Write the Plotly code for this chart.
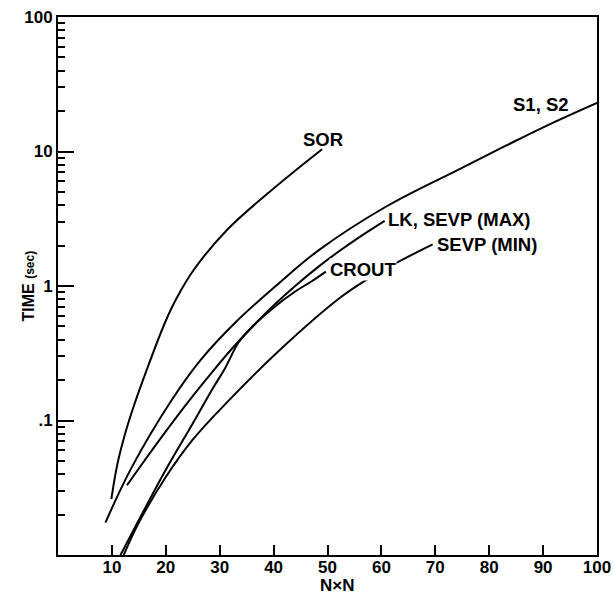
import numpy as np
import plotly.graph_objects as go

# ---- data ----
sor_x = [9.9, 11.0, 12.5, 14.0, 16.5, 19.9, 22.0, 25.2, 31.3, 40.1, 49.0]
sor_y = [0.026, 0.047, 0.081, 0.126, 0.24, 0.54, 0.81, 1.32, 2.6, 5.35, 10.4]

s12_x = [8.8, 13.7, 21.1, 26.4, 33.0, 41.0, 48.4, 60.9, 74.5, 83.0, 91.0, 100.0]
s12_y = [0.0174, 0.045, 0.142, 0.28, 0.54, 1.05, 1.85, 3.9, 7.4, 11.0, 15.8, 23.0]

lk_x = [12.8, 16.0, 20.0, 24.3, 28.6, 32.3, 36.1, 40.0, 44.0, 48.4, 52.2, 56.0, 60.6]
lk_y = [0.033, 0.050, 0.083, 0.140, 0.229, 0.343, 0.50, 0.716, 1.0, 1.40, 1.82, 2.32, 3.05]

crout_x = [11.6, 15.0, 20.0, 25.0, 28.6, 31.0, 33.5, 36.1, 40.0, 44.0, 47.0, 49.7]
crout_y = [0.010, 0.0182, 0.043, 0.095, 0.17, 0.245, 0.38, 0.50, 0.69, 0.91, 1.08, 1.28]

smin_x = [12.2, 15.0, 20.0, 25.0, 31.7, 41.0, 52.2, 57.2, 62.7, 69.5]
smin_y = [0.010, 0.0174, 0.038, 0.072, 0.141, 0.33, 0.81, 1.11, 1.48, 2.04]

label_text = ["SOR", "S1, S2", "LK, SEVP (MAX)", "SEVP (MIN)", "CROUT"]
label_x = [49.2, 89.6, 61.1, 70.2, 50.3]
label_y = [12.2, 22.5, 3.12, 2.02, 1.32]
label_anchor = ["center", "center", "left", "left", "left"]

x_ticks = [10, 20, 30, 40, 50, 60, 70, 80, 90, 100]
y_ticks = [0.1, 1, 10, 100]
y_ticktext = [".1", "1", "10", "100"]

FONT = "Liberation Sans, Arial, sans-serif"

fig = go.Figure()
for xs, ys in [(sor_x, sor_y), (s12_x, s12_y), (lk_x, lk_y), (smin_x, smin_y), (crout_x, crout_y)]:
    fig.add_trace(go.Scatter(x=xs, y=ys, mode="lines",
                             line=dict(color="black", width=2, shape="spline", smoothing=1.1),
                             showlegend=False, hoverinfo="skip"))

for t, x, y, a in zip(label_text, label_x, label_y, label_anchor):
    fig.add_annotation(x=x, y=np.log10(y), xref="x", yref="y", text="<b>%s</b>" % t,
                       showarrow=False, xanchor=a, yanchor="middle",
                       font=dict(family=FONT, size=18.5, color="black"),
                       bgcolor="white" if t == "CROUT" else None, borderpad=0)

fig.add_annotation(x=-0.076, y=0.5, xref="paper", yref="paper", textangle=-90,
                   text="<b>TIME <span style='font-size:12px'>(sec)</span></b>",
                   showarrow=False, font=dict(family=FONT, size=16, color="black"))
fig.add_annotation(x=0.518, y=-0.056, xref="paper", yref="paper", yanchor="middle",
                   text="<b>N×N</b>", showarrow=False,
                   font=dict(family=FONT, size=17, color="black"))

fig.update_layout(
    width=613, height=600,
    margin=dict(l=58, r=16, t=17, b=45),
    paper_bgcolor="white", plot_bgcolor="white",
    font=dict(family=FONT, color="black"),
)
fig.update_xaxes(range=[0, 100], tickvals=x_ticks, automargin=False,
                 ticktext=["<b>%d</b>" % v for v in x_ticks],
                 ticks="inside", ticklen=10, tickwidth=2, tickcolor="black",
                 ticklabelstandoff=-4, ticklabeloverflow="allow",
                 showline=True, linecolor="black", linewidth=2, mirror=True,
                 showgrid=False, zeroline=False,
                 tickfont=dict(family=FONT, size=17, color="black"))
fig.update_yaxes(type="log", range=[-2, 2], tickvals=y_ticks, automargin=False,
                 ticktext=["<b>%s</b>" % s for s in y_ticktext],
                 ticks="inside", ticklen=16, tickwidth=2, tickcolor="black",
                 ticklabeloverflow="allow",
                 showline=True, linecolor="black", linewidth=2, mirror=True,
                 showgrid=False, zeroline=False,
                 minor=dict(ticks="inside", ticklen=7, tickwidth=1.5, tickcolor="black",
                            dtick="D1", showgrid=False),
                 tickfont=dict(family=FONT, size=17, color="black"))

# remove the browser's default 8px body margin so the figure fills the window
fig.write_html("out.html", config={"displayModeBar": False},
               post_script="document.body.style.margin='0px';document.body.style.overflow='hidden';")
